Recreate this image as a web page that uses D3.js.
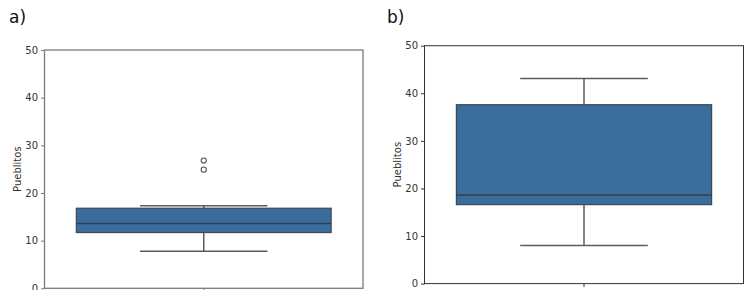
<!DOCTYPE html>
<html><head><meta charset="utf-8">
<script src="https://cdn.jsdelivr.net/npm/d3@7"></script>
<style>body{margin:0;background:#fff}svg{display:block}text{font-family:"DejaVu Sans",sans-serif}</style>
</head><body>
<svg id="c" width="747" height="290"></svg>
<script>
// Data
const panelLabels = ["a)", "b)"];
const yTicks = [0, 10, 20, 30, 40, 50];
const yLabel = "Pueblitos";
const whiskerLow  = [7.8, 8.0];
const q1          = [11.7, 16.6];
const medians     = [13.6, 18.6];
const q3          = [16.8, 37.6];
const whiskerHigh = [17.3, 43.1];
const outliers    = [[24.9, 26.8], []];

const svg = d3.select("#c");
const panels = [
  {x0: 44.5, x1: 363, yTop: 50, yBot: 288.3, lx: 9, ly: 23, spine: "#7a7a7a", sw: 1.3},
  {x0: 424.5, x1: 743.5, yTop: 45.7, yBot: 283.6, lx: 387, ly: 23, spine: "#333", sw: 1}
];

panels.forEach((p, i) => {
  const g = svg.append("g");
  const y = d3.scaleLinear().domain([0, 50]).range([p.yBot, p.yTop]);
  const x = d3.scaleBand().domain([0]).range([p.x0, p.x1]).paddingInner(0).paddingOuter(0);
  const cx = x(0) + x.bandwidth() / 2;
  const bx0 = x(0) + x.bandwidth() * 0.1, bx1 = x(0) + x.bandwidth() * 0.9;

  // label
  svg.append("text").attr("x", p.lx).attr("y", p.ly).attr("font-size", 17)
    .attr("font-family", "Liberation Sans, Arial, sans-serif").attr("fill", "#111").text(panelLabels[i]);

  // whiskers
  const wc = "#5c5c5c";
  g.append("line").attr("x1", cx).attr("x2", cx).attr("y1", y(whiskerLow[i])).attr("y2", y(q1[i]))
    .attr("stroke", wc).attr("stroke-width", 1.5);
  g.append("line").attr("x1", cx).attr("x2", cx).attr("y1", y(q3[i])).attr("y2", y(whiskerHigh[i]))
    .attr("stroke", wc).attr("stroke-width", 1.5);
  [whiskerLow[i], whiskerHigh[i]].forEach(v => {
    g.append("line").attr("x1", cx - (cx - bx0) * 0.5).attr("x2", cx + (bx1 - cx) * 0.5)
      .attr("y1", y(v)).attr("y2", y(v)).attr("stroke", wc).attr("stroke-width", 1.5);
  });
  // box
  g.append("rect").attr("x", bx0).attr("width", bx1 - bx0)
    .attr("y", y(q3[i])).attr("height", y(q1[i]) - y(q3[i]))
    .attr("fill", "#3a6d9c").attr("stroke", "#3c4a58").attr("stroke-width", 1.2);
  g.append("line").attr("x1", bx0).attr("x2", bx1).attr("y1", y(medians[i])).attr("y2", y(medians[i]))
    .attr("stroke", "#33404d").attr("stroke-width", 1.5);
  // outliers
  g.selectAll("circle.o").data(outliers[i]).join("circle")
    .attr("cx", cx).attr("cy", d => y(d)).attr("r", 2.6)
    .attr("fill", "none").attr("stroke", "#555").attr("stroke-width", 1.1);

  // axes
  const ax = g.append("g").attr("transform", `translate(${p.x0},0)`)
    .call(d3.axisLeft(y).tickValues(yTicks).tickSize(3.5).tickPadding(3).tickFormat(d3.format("d")));
  ax.select(".domain").remove();
  ax.selectAll(".tick line").attr("stroke", p.spine);
  ax.selectAll("text").attr("font-size", 10).attr("fill", "#333");

  // spines
  g.append("rect").attr("x", p.x0).attr("y", p.yTop).attr("width", p.x1 - p.x0).attr("height", p.yBot - p.yTop)
    .attr("fill", "none").attr("stroke", p.spine).attr("stroke-width", p.sw);
  // x tick
  g.append("line").attr("x1", cx).attr("x2", cx).attr("y1", p.yBot).attr("y2", p.yBot + 3.5).attr("stroke", p.spine);

  // y label
  const my = (p.yTop + p.yBot) / 2;
  svg.append("text").attr("transform", `translate(${p.x0 - 24},${my}) rotate(-90)`)
    .attr("text-anchor", "middle").attr("font-size", 10).attr("fill", "#333").text(yLabel);
});
</script>
</body></html>
